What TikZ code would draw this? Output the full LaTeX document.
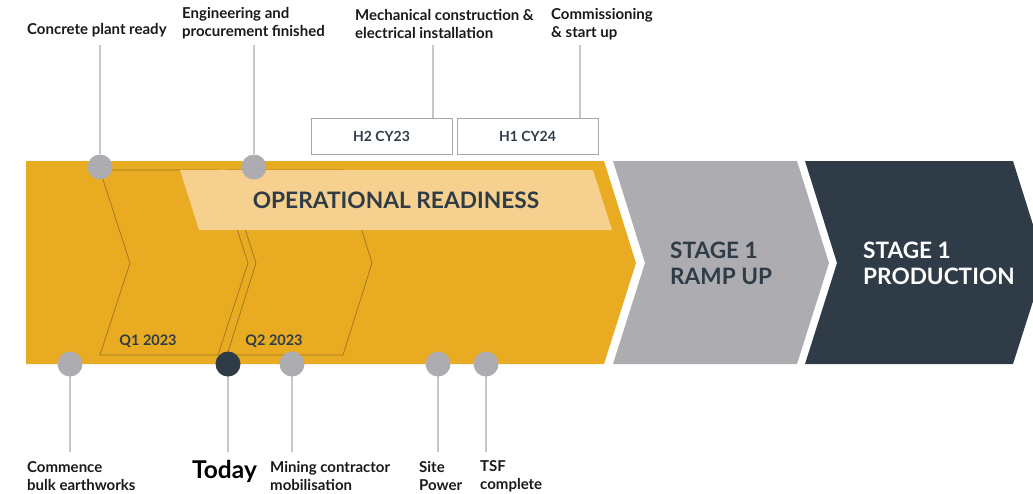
\documentclass[tikz,border=0pt]{standalone}
\usepackage{fontspec}
\setmainfont{Lato}
\usepackage{tikz}
\usetikzlibrary{positioning}

\definecolor{gold}{HTML}{E9AB21}
\definecolor{paleGold}{HTML}{F5D08E}
\definecolor{ochre}{HTML}{9C7620}
\definecolor{stoneGrey}{HTML}{ADACB0}
\definecolor{slate}{HTML}{2F3C47}
\definecolor{stemGrey}{HTML}{C6C7CC}
\definecolor{boxGrey}{HTML}{A3A8AD}

\begin{document}
\begin{tikzpicture}[x=1pt, y=-1pt,
    dot/.style={circle, fill=stoneGrey, minimum size=25pt, inner sep=0pt},
    stem/.style={draw=stemGrey, line width=1.3pt},
    milestone/.style={anchor=west, align=left, inner sep=0pt, font=\bfseries\fontsize{15}{18}\selectfont, text=black!90},
    period/.style={draw=boxGrey, fill=white, line width=0.8pt, minimum width=141pt, minimum height=36pt, inner sep=0pt, font=\bfseries\fontsize{14}{16}\selectfont, text=slate},
    quarter/.style={draw=ochre, line width=0.7pt},
    quartertext/.style={font=\bfseries\fontsize{14.5}{16}\selectfont, text=slate},
    stagetext/.style={anchor=west, align=left, inner sep=0pt, font=\bfseries\fontsize{22.6}{26}\selectfont}]
  \useasboundingbox (0,0) rectangle (1033,493);

  % stages
  \fill[gold] (26,161) -- (604,161) -- (636,263) -- (604,364) -- (26,364) -- cycle;
  \fill[stoneGrey] (613,161) -- (797,161) -- (829,263) -- (797,364) -- (613,364) -- (645,263) -- cycle;
  \fill[slate] (805,161) -- (1013,161) -- (1033,224.75) -- (1033,301.25) -- (1013,364) -- (805,364) -- (837,263) -- cycle;

  % quarters
  \draw[quarter] (100,170) -- (218,170) -- (248,263) -- (218,355) -- (100,355) -- (130,263) -- cycle;
  \draw[quarter] (226,170) -- (343,170) -- (372,263) -- (343,355) -- (227,355) -- (256,263) -- cycle;
  \node[quartertext] (q1) at (148,341) {Q1 2023};
  \node[quartertext] (q2) at (274,341) {Q2 2023};

  % operational readiness band
  \fill[paleGold] (180,170) -- (593,170) -- (612,230) -- (199,230) -- cycle;
  \node[font=\bfseries\fontsize{22.7}{26}\selectfont, text=slate] (opr) at (396,200) {OPERATIONAL READINESS};

  \node[stagetext, text=slate] (ramp) at (670,263) {STAGE 1\\RAMP UP};
  \node[stagetext, text=white] (prod) at (863,263) {STAGE 1\\PRODUCTION};

  % top milestones
  \node[milestone] (concrete) at (27,30) {Concrete plant ready};
  \node[milestone] (engineering) at (182,23) {Engineering and\\procurement finished};
  \node[milestone] (mechanical) at (355,24) {Mechanical construction \&\\electrical installation};
  \node[milestone] (commissioning) at (551,24) {Commissioning\\\& start up};

  \node[period] (h2) at (381.5,136) {H2 CY23};
  \node[period] (h1) at (527.5,136) {H1 CY24};

  \coordinate (s1) at (100,45);
  \coordinate (s2) at (254,45);
  \coordinate (s3) at (433,45);
  \coordinate (s4) at (580,45);
  \draw[stem] (s3) -- (s3 |- h2.north);
  \draw[stem] (s4) -- (s4 |- h1.north);

  \node[dot] (concreteDot) at (100,167) {};
  \node[dot] (engineeringDot) at (254,167) {};
  \draw[stem] (s1) -- (concreteDot);
  \draw[stem] (s2) -- (engineeringDot);

  % bottom milestones
  \foreach \name/\x in {earthworks/70, today/228, mining/292, power/438, tsf/486}
    \coordinate (\name End) at (\x,452);
  \foreach \name/\x in {earthworks/70, today/228, mining/292, power/438, tsf/486}
    \draw[stem] (\name End) -- (\x,364);
  \node[dot] (earthworksDot) at (70,364) {};
  \node[dot, fill=slate] (todayDot) at (228,364) {};
  \node[dot] (miningDot) at (292,364) {};
  \node[dot] (powerDot) at (438,364) {};
  \node[dot] (tsfDot) at (486,364) {};

  \node[milestone] (earthworks) at (27,476) {Commence\\bulk earthworks};
  \node[font=\bfseries\fontsize{24.5}{28}\selectfont, text=black, inner sep=0pt] (today) at (224.5,471) {Today};
  \node[milestone] (mining) at (270,476) {Mining contractor\\mobilisation};
  \node[milestone] (power) at (419,476) {Site\\Power};
  \node[milestone] (tsf) at (480,476) {TSF\\complete};
\end{tikzpicture}
\end{document}
